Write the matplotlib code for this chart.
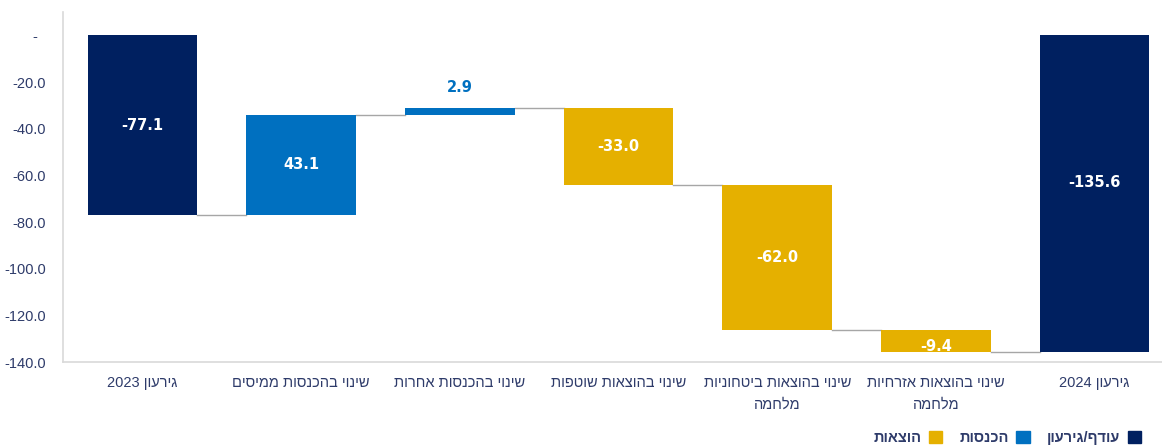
# plot.py
# Waterfall chart of the change in the deficit from 2023 to 2024.

# Import numpy for numerical arrays.
import numpy as np

# Import matplotlib for plotting.
import matplotlib
matplotlib.use("Agg")
import matplotlib.pyplot as plt
from matplotlib.patches import Patch

# Use a font list with Hebrew glyphs and a fallback.
plt.rcParams["font.family"] = ["Liberation Sans", "DejaVu Sans"]

# Category labels (logical order, Hebrew).
categories = [
    "גירעון 2023",
    "שינוי בהכנסות ממיסים",
    "שינוי בהכנסות אחרות",
    "שינוי בהוצאות שוטפות",
    "שינוי בהוצאות ביטחוניות\nמלחמה",
    "שינוי בהוצאות אזרחיות\nמלחמה",
    "גירעון 2024",
]

# Step values of the waterfall.
values = [-77.1, 43.1, 2.9, -33.0, -62.0, -9.4, -135.6]

# Kind of each step: total, income or expense.
kinds = ["total", "income", "income", "expense", "expense", "expense", "total"]

# Y-axis ticks and their labels.
y_ticks = [0, -20, -40, -60, -80, -100, -120, -140]
y_tick_labels = ["-  ", "-20.0", "-40.0", "-60.0", "-80.0", "-100.0", "-120.0", "-140.0"]

# Legend labels.
legend_labels = {"total": "עודף/גירעון", "income": "הכנסות", "expense": "הוצאות"}

# Colors.
colors = {"total": "#002060", "income": "#0070C0", "expense": "#E5B000"}
text_color = "#2E3B6A"


# Turn logical Hebrew text into visual order, keeping digit runs as they are.
def visual(s):
    out_lines = []
    for line in s.split("\n"):
        rev = line[::-1]
        parts = []
        buf = ""
        for ch in rev:
            if ch.isdigit():
                buf += ch
            else:
                if buf:
                    parts.append(buf[::-1])
                    buf = ""
                parts.append(ch)
        if buf:
            parts.append(buf[::-1])
        out_lines.append("".join(parts))
    return "\n".join(out_lines)


# Compute bar bottoms and tops.
bottoms = []
heights = []
level = 0.0
for v, k in zip(values, kinds):
    if k == "total":
        bottoms.append(0.0)
        heights.append(v)
        level = v
    else:
        bottoms.append(level)
        heights.append(v)
        level = level + v

# Create the figure and axes.
fig = plt.figure(figsize=(11.62, 4.47), dpi=100)
ax = fig.add_axes([63 / 1162, 85 / 447, 1111 / 1162, 350 / 447])

x = np.arange(len(values))
bar_w = 0.69

# Draw the bars.
for i in range(len(values)):
    ax.bar(x[i], heights[i], bottom=bottoms[i], width=bar_w, color=colors[kinds[i]], edgecolor="none", zorder=2)

# Draw connector lines between bars.
for i in range(len(values) - 1):
    y_level = bottoms[i] + heights[i]
    ax.plot([x[i] + bar_w / 2, x[i + 1] - bar_w / 2], [y_level, y_level], color="#A6A6A6", lw=1, zorder=1)

# Add value labels.
for i in range(len(values)):
    mid = bottoms[i] + heights[i] / 2
    label = f"{values[i]:.1f}"
    if abs(heights[i]) < 5 and heights[i] > 0:
        top = bottoms[i] + heights[i]
        ax.annotate(label, (x[i], top), xytext=(0, 9), textcoords="offset points", ha="center", va="bottom",
                    color=colors[kinds[i]], fontsize=10.5, fontweight="bold", family="DejaVu Sans")
    else:
        # The last total label sits a little above the middle; small bars push the label down.
        dy = 0
        if i == len(values) - 1:
            dy = 8
        elif abs(heights[i]) < 12:
            dy = -4
        ax.annotate(label, (x[i], mid), xytext=(0, dy), textcoords="offset points", ha="center", va="center",
                    color="white", fontsize=10.5, fontweight="bold", family="DejaVu Sans", zorder=3)

# Axis limits and ticks.
ax.set_xlim(-0.5, len(values) - 0.5)
ax.set_ylim(-140, 10)
ax.set_yticks(y_ticks)
ax.set_yticklabels(y_tick_labels)
ax.set_xticks(x)
ax.set_xticklabels([visual(c) for c in categories], linespacing=1.7)
ax.tick_params(axis="both", length=0, labelsize=10.5, labelcolor=text_color)
ax.tick_params(axis="y", pad=12)
ax.tick_params(axis="x", pad=10)

# Spines.
for side in ["top", "right"]:
    ax.spines[side].set_visible(False)
ax.spines["left"].set_color("#D9D9D9")
ax.spines["bottom"].set_color("#D9D9D9")
ax.spines["left"].set_linewidth(1.2)
ax.spines["bottom"].set_linewidth(1.2)

# Legend at the bottom right.
handles = [Patch(color=colors[k]) for k in ["expense", "income", "total"]]
labels = [visual(legend_labels[k]) for k in ["expense", "income", "total"]]
leg = fig.legend(handles, labels, ncol=3, frameon=False, markerfirst=False, loc="center right",
                 bbox_to_anchor=(1148 / 1162, 9 / 447), bbox_transform=fig.transFigure,
                 handlelength=0.9, handleheight=0.9, handletextpad=0.5, columnspacing=1.2,
                 borderpad=0, prop={"weight": "bold", "size": 10.5})
for t in leg.get_texts():
    t.set_color(text_color)

# Save the figure.
fig.savefig("out.png", dpi=100)
plt.close(fig)
